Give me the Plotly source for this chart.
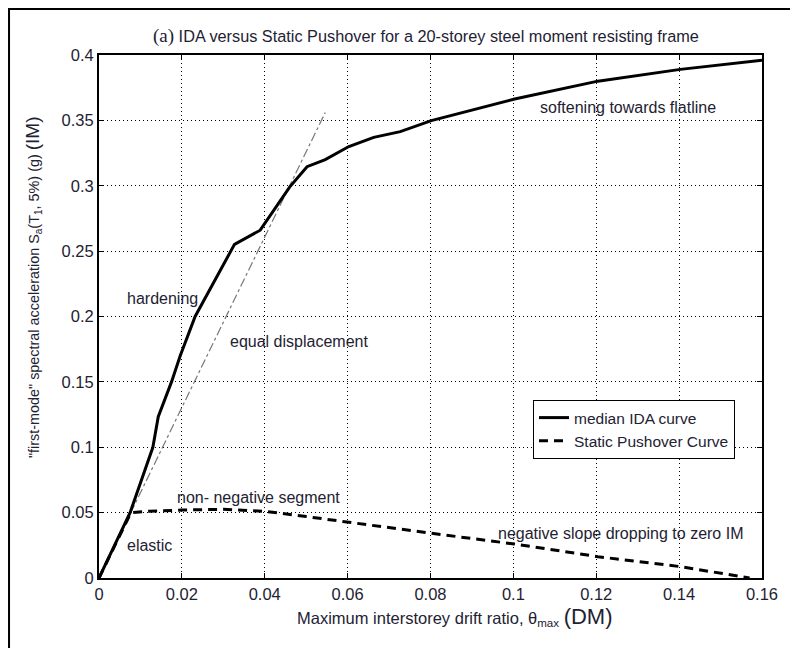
import plotly.graph_objects as go

# Median IDA curve
ida_x = [0, 0.0075, 0.013, 0.0143, 0.0175, 0.0196, 0.0232, 0.0327, 0.0389, 0.046, 0.0502,
         0.0546, 0.0603, 0.0663, 0.0727, 0.0802, 0.1003, 0.1204, 0.1403, 0.16]
ida_y = [0, 0.05, 0.1, 0.1234, 0.15, 0.17, 0.2, 0.2552, 0.266, 0.299, 0.3146,
         0.320, 0.330, 0.337, 0.3414, 0.3498, 0.3663, 0.380, 0.389, 0.396]

# Static pushover curve
spo_x = [0, 0.0077, 0.012, 0.02, 0.03, 0.04, 0.05, 0.06, 0.0727, 0.0802, 0.1003, 0.1204, 0.1403, 0.157]
spo_y = [0, 0.05, 0.051, 0.052, 0.0525, 0.051, 0.047, 0.0426, 0.0372, 0.0342, 0.026, 0.0163, 0.0087, 0.0]

# Equal displacement line
eq_x = [0, 0.0546]
eq_y = [0, 0.356]

x_ticks = [0, 0.02, 0.04, 0.06, 0.08, 0.1, 0.12, 0.14, 0.16]
x_labels = ["0", "0.02", "0.04", "0.06", "0.08", "0.1", "0.12", "0.14", "0.16"]
y_ticks = [0, 0.05, 0.1, 0.15, 0.2, 0.25, 0.3, 0.35, 0.4]
y_labels = ["0", "0.05", "0.1", "0.15", "0.2", "0.25", "0.3", "0.35", "0.4"]

notes = [
    ("softening towards flatline", 0.1059, 0.3595),
    ("hardening", 0.0063, 0.2141),
    ("equal displacement", 0.0312, 0.1807),
    ("non- negative segment", 0.0184, 0.0614),
    ("elastic", 0.0063, 0.0245),
    ("negative slope dropping to zero IM", 0.0957, 0.0342),
]

FONT = "Liberation Sans, Arial, sans-serif"
TXT = "#1e2233"

fig = go.Figure()
fig.add_trace(go.Scatter(x=eq_x, y=eq_y, mode="lines", showlegend=False,
                         line=dict(color="#777777", width=1.2, dash="dashdot")))
fig.add_trace(go.Scatter(x=ida_x, y=ida_y, mode="lines", name="median IDA curve",
                         line=dict(color="black", width=3)))
fig.add_trace(go.Scatter(x=spo_x, y=spo_y, mode="lines", name="Static Pushover Curve",
                         line=dict(color="black", width=3, dash="9px,6px")))

for text, x, y in notes:
    fig.add_annotation(x=x, y=y, text=text, showarrow=False, xanchor="left", yanchor="middle",
                       font=dict(family=FONT, size=16, color=TXT))

axis_common = dict(showline=True, linecolor="black", linewidth=2, mirror="ticks",
                   ticks="inside", ticklen=5, tickcolor="black", tickwidth=1,
                   showgrid=True, gridcolor="black", gridwidth=1, griddash="1px,3px",
                   zeroline=False, tickfont=dict(family=FONT, size=16.5, color=TXT))

fig.update_xaxes(range=[0, 0.16], tickvals=x_ticks, ticktext=x_labels, **axis_common)
fig.update_yaxes(range=[0, 0.4], tickvals=y_ticks, ticktext=y_labels, **axis_common)

# Title
fig.add_annotation(xref="paper", yref="paper", x=0.493, y=1.0363, showarrow=False,
                   xanchor="center", yanchor="middle",
                   text="<span style='font-family:Liberation Serif,Times New Roman,serif;font-size:19px'>(a)</span> IDA versus Static Pushover for a 20-storey steel moment resisting frame",
                   font=dict(family=FONT, size=16.3, color=TXT))
# X axis title
fig.add_annotation(xref="paper", yref="paper", x=0.537, y=-0.0727, showarrow=False,
                   xanchor="center", yanchor="middle",
                   text="Maximum interstorey drift ratio, θ<sub>max</sub> <span style='font-size:22px'>(DM)</span>",
                   font=dict(family=FONT, size=16.5, color=TXT))
# Y axis title
fig.add_annotation(xref="paper", yref="paper", x=-0.0995, y=0.5564, showarrow=False,
                   xanchor="center", yanchor="middle", textangle=-90,
                   text="\"first-mode\" spectral acceleration S<sub>a</sub>(T<sub>1</sub>, 5%) (g) <span style='font-size:19px'>(IM)</span>",
                   font=dict(family=FONT, size=14.4, color=TXT))

# Outer frame
fig.add_shape(type="rect", xref="paper", yref="paper", x0=-0.1357, x1=1.2, y0=-0.3, y1=1.088,
              line=dict(color="black", width=2), layer="below")

fig.update_layout(
    width=790, height=640,
    margin=dict(l=91, r=36, t=47, b=70),
    paper_bgcolor="white", plot_bgcolor="white",
    legend=dict(x=0.6546, y=0.3403, xanchor="left", yanchor="top",
                bordercolor="black", borderwidth=1, bgcolor="white",
                font=dict(family=FONT, size=15.5, color=TXT),
                tracegroupgap=0, itemwidth=30),
    font=dict(family=FONT, color=TXT),
)

fig.write_html("out.html")
